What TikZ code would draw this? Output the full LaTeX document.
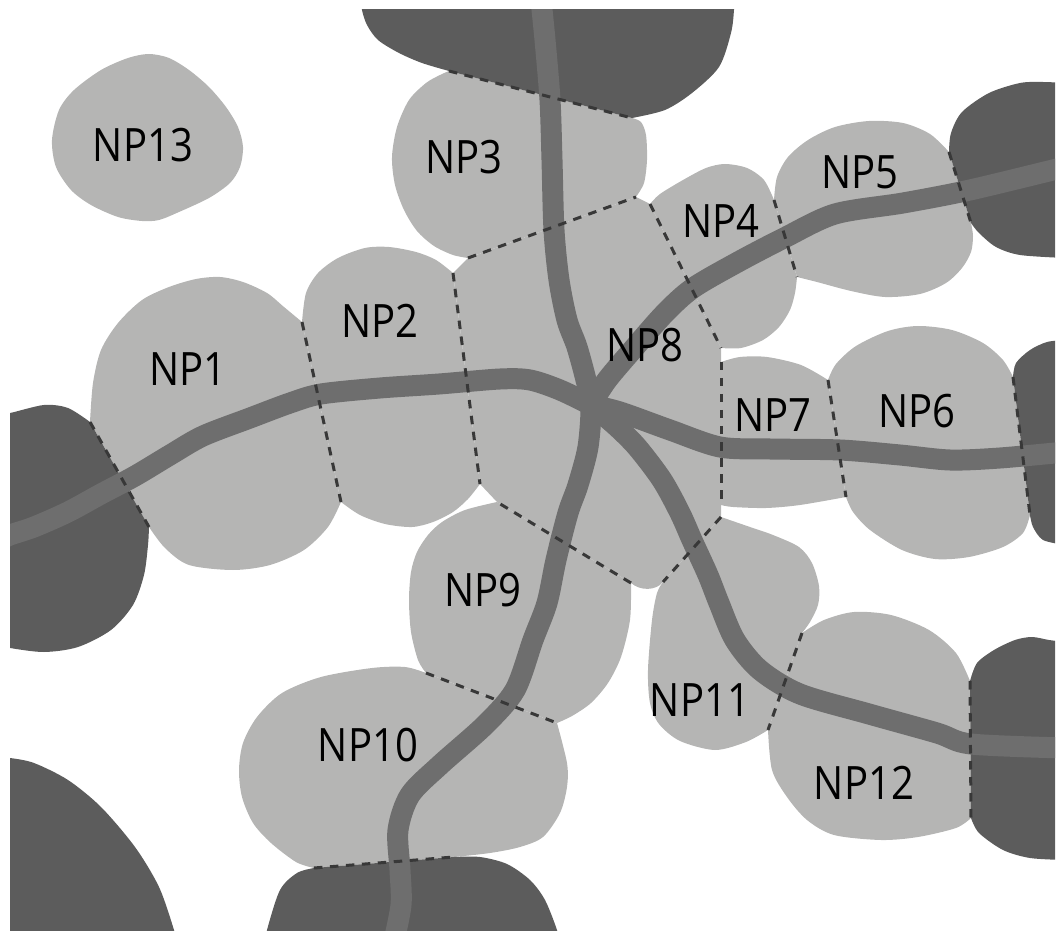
\documentclass[tikz,border=0pt]{standalone}
\usepackage{fontspec}
\newfontfamily\lblfont{Open Sans}[FakeStretch=0.87]
\definecolor{lite}{HTML}{B5B5B4}
\definecolor{darkg}{HTML}{5C5C5C}
\definecolor{trk}{HTML}{6E6E6E}
\definecolor{dsh}{HTML}{383838}
\begin{document}
\begin{tikzpicture}[x=1pt,y=-1pt,
  lt/.style={fill=lite},
  dk/.style={fill=darkg},
  rail/.style={draw=trk,line width=21pt,line join=round},
  npedge/.style={draw=dsh,line width=3pt,dash pattern=on 8.5pt off 7.5pt},
  lbl/.style={font=\lblfont\fontsize{46}{50}\selectfont,inner sep=0pt}]
\useasboundingbox (0,0) rectangle (1061,941);
% corner points shared by neighbouring regions
\coordinate (c1) at (90,422);   \coordinate (c2) at (149,527);
\coordinate (c3) at (302,322);  \coordinate (c4) at (341,502);
\coordinate (c5) at (453,273);  \coordinate (c6) at (480,484);
\coordinate (c7) at (468,258);  \coordinate (c8) at (636,197);
\coordinate (c9) at (449,71);   \coordinate (c10) at (632,118);
\coordinate (c11) at (650,204); \coordinate (c12) at (721,348);
\coordinate (c13) at (774,200); \coordinate (c14) at (797,277);
\coordinate (c15) at (949,152); \coordinate (c16) at (971,223);
\coordinate (c17) at (721,362); \coordinate (c18) at (721,505);
\coordinate (c19) at (828,380); \coordinate (c20) at (846,497);
\coordinate (c21) at (1013,377);\coordinate (c22) at (1030,515);
\coordinate (c23) at (721,517); \coordinate (c24) at (663,582);
\coordinate (c25) at (631,583); \coordinate (c26) at (497,502);
\coordinate (c27) at (802,633); \coordinate (c28) at (768,730);
\coordinate (c29) at (970,681); \coordinate (c30) at (971,818);
\coordinate (c31) at (426,673); \coordinate (c32) at (557,723);
\coordinate (c33) at (314,868); \coordinate (c34) at (454,857);
\begin{scope}
\clip (10,10) rectangle (1055,930);
% ---------- light regions ----------
% NP13
\fill[lt] plot[smooth cycle] coordinates {(149,54) (169,58) (189,70) (209,87) (226,107) (238,127) (243,147) (240,167) (230,183) (209,198) (179,212) (159,220) (142,221) (118,217) (91,205) (71,190) (56,167) (52,140) (59,110) (74,90) (101,70) (128,58)};
% NP1
\fill[lt] plot[smooth] coordinates {(c1) (93,383) (101,350) (118,323) (142,300) (169,287) (196,279) (220,277) (243,282) (267,293) (284,307) (c3)}
  -- plot[smooth] coordinates {(c4) (328,527) (304,550) (270,565) (233,570) (189,565) (165,548) (c2)} -- cycle;
% NP2
\fill[lt] plot[smooth] coordinates {(c3) (306,293) (318,273) (338,258) (365,248) (389,247) (416,252) (436,260) (c5)}
  -- plot[smooth] coordinates {(c6) (468,499) (453,512) (433,522) (412,527) (385,524) (360,515) (c4)} -- cycle;
% NP3
\fill[lt] plot[smooth] coordinates {(c7) (453,255) (434,246) (417,231) (404,210) (395,185) (392,157) (397,127) (409,100) (426,83) (440,75) (c9)}
  -- plot[smooth] coordinates {(c10) (641,122) (646,135) (647,160) (644,183) (c8)} -- cycle;
% NP8
\fill[lt] (c5) -- (c7) -- (c8) -- (c11) -- (c12) -- (c17) -- (c18) -- (c23) -- (c24)
  .. controls (656,591) and (640,591) .. (c25) -- (c26) -- (c6) -- cycle;
% NP4
\fill[lt] plot[smooth] coordinates {(c11) (660,194) (683,180) (706,168) (725,164) (747,168) (764,180) (c13)}
  -- plot[smooth] coordinates {(c14) (795,293) (790,310) (779,327) (763,340) (741,348) (c12)} -- cycle;
% NP5
\fill[lt] plot[smooth] coordinates {(c13) (777,177) (788,157) (808,140) (835,127) (869,121) (903,123) (930,134) (c15)}
  -- plot[smooth] coordinates {(c16) (973,236) (971,252) (962,268) (946,283) (920,294) (885,297) (851,291) (817,282) (c14)} -- cycle;
% NP7
\fill[lt] plot[smooth] coordinates {(c17) (740,357) (767,357) (801,365) (c19)}
  -- plot[smooth] coordinates {(c20) (800,505) (766,508) (733,507) (c18)} -- cycle;
% NP6
\fill[lt] plot[smooth] coordinates {(c19) (836,364) (856,346) (888,331) (918,326) (952,330) (983,343) (1003,360) (c21)}
  -- plot[smooth] coordinates {(c22) (1023,533) (1003,547) (969,557) (935,559) (902,550) (870,530) (853,512) (c20)} -- cycle;
% NP11
\fill[lt] plot[smooth] coordinates {(c24) (657,593) (652,620) (648,670) (650,703) (659,724) (680,741) (715,750) (746,742) (c28)}
  -- plot[smooth] coordinates {(c27) (810,622) (818,605) (819,586) (812,563) (799,547) (773,535) (750,527) (c23)} -- cycle;
% NP12
\fill[lt] plot[smooth] coordinates {(c27) (824,620) (854,612) (891,615) (929,630) (956,653) (c29)}
  -- plot[smooth] coordinates {(c30) (956,828) (918,837) (881,840) (834,835) (807,820) (787,797) (772,770) (c28)} -- cycle;
% NP9
\fill[lt] plot[smooth] coordinates {(c31) (418,660) (411,632) (409,600) (411,572) (417,552) (428,535) (442,522) (465,510) (c26)}
  -- plot[smooth] coordinates {(c25) (630,620) (621,657) (608,683) (591,703) (572,716) (c32)} -- cycle;
% NP10
\fill[lt] plot[smooth] coordinates {(c31) (405,667) (372,668) (321,677) (282,693) (257,717) (243,743) (239,770) (242,797) (253,823) (271,843) (296,862) (c33)}
  -- plot[smooth] coordinates {(c34) (490,853) (520,847) (543,837) (560,813) (567,787) (567,763) (c32)} -- cycle;
% ---------- dark regions ----------
\fill[dk] plot[smooth] coordinates {(362,0) (362,10) (367,25) (378,40) (399,53) (422,63) (c9)}
  -- plot[smooth] coordinates {(c10) (665,110) (692,93) (719,67) (731,33) (734,10) (734,0)} -- cycle;
\fill[dk] plot[smooth] coordinates {(0,413) (10,413) (44,405) (68,408) (c1)}
  -- plot[smooth] coordinates {(c2) (148,545) (144,575) (133,605) (111,630) (78,647) (44,652) (10,648) (0,645)} -- cycle;
\fill[dk] plot[smooth] coordinates {(c15) (951,133) (962,112) (989,93) (1020,83) (1043,82) (1065,83)}
  -- plot[smooth] coordinates {(1065,258) (1020,255) (996,247) (979,233) (c16)} -- cycle;
\fill[dk] plot[smooth] coordinates {(c21) (1016,363) (1030,350) (1047,342) (1065,340)}
  -- plot[smooth] coordinates {(1065,545) (1043,540) (1033,527) (c22)} -- cycle;
\fill[dk] plot[smooth] coordinates {(c29) (977,663) (994,650) (1015,640) (1032,637) (1049,640) (1065,642)}
  -- plot[smooth] coordinates {(1065,860) (1030,858) (1003,850) (979,833) (c30)} -- cycle;
\fill[dk] plot[smooth] coordinates {(265,945) (267,930) (280,890) (297,873) (c33)}
  -- plot[smooth] coordinates {(c34) (480,857) (507,864) (530,880) (545,900) (557,930) (560,945)} -- cycle;
\fill[dk] plot[smooth] coordinates {(0,758) (10,758) (34,763) (68,780) (101,807) (135,847) (159,887) (174,930) (177,945)}
  -- (0,945) -- cycle;
% ---------- tracks ----------
\coordinate (hub) at (591,405);
\draw[rail] plot[smooth] coordinates {(541,0) (545,40) (550,100) (552,160) (554,230) (559,280) (567,320) (577,347) (586,380) (hub) (588,447) (578,485) (568,513) (556,560) (547,603) (533,640) (515,690) (485,725) (440,765) (410,795) (398,830) (400,870) (401,905) (393,945)};
\draw[rail] plot[smooth] coordinates {(0,540) (10,535) (34,527) (68,512) (101,494) (135,476) (170,455) (203,436) (250,418) (290,403) (321,394) (380,388) (439,384) (500,379) (530,380) (560,390) (hub)};
\draw[rail] plot[smooth] coordinates {(hub) (607,380) (635,347) (665,313) (693,288) (738,262) (784,238) (835,214) (903,203) (970,190) (1065,167)};
\draw[rail] plot[smooth] coordinates {(hub) (620,412) (670,430) (720,447) (770,449) (840,450) (900,455) (950,460) (1000,458) (1065,452)};
\draw[rail] plot[smooth] coordinates {(hub) (615,425) (637,447) (662,480) (680,513) (692,540) (708,575) (719,603) (735,640) (760,670) (800,694) (869,714) (937,733) (971,744) (1065,748)};
% ---------- region boundaries ----------
\foreach \a/\b in {c1/c2,c3/c4,c5/c6,c7/c8,c9/c10,c11/c12,c13/c14,c15/c16,c17/c18,c19/c20,c21/c22,c23/c24,c25/c26,c27/c28,c29/c30,c31/c32,c33/c34}
  \draw[npedge] (\a) -- (\b);
% ---------- labels ----------
\node[lbl] (lNP13) at (143,145) {NP13};
\node[lbl] (lNP3) at (464,157) {NP3};
\node[lbl] (lNP1) at (188,369) {NP1};
\node[lbl] (lNP2) at (380,321) {NP2};
\node[lbl] (lNP4) at (721,221) {NP4};
\node[lbl] (lNP5) at (860,172) {NP5};
\node[lbl] (lNP8) at (645,345) {NP8};
\node[lbl] (lNP7) at (773,415) {NP7};
\node[lbl] (lNP6) at (917,411) {NP6};
\node[lbl] (lNP9) at (483,590) {NP9};
\node[lbl] (lNP10) at (368,745) {NP10};
\node[lbl] (lNP11) at (700,700) {NP11};
\node[lbl] (lNP12) at (864,783) {NP12};
\end{scope}
\end{tikzpicture}
\end{document}
